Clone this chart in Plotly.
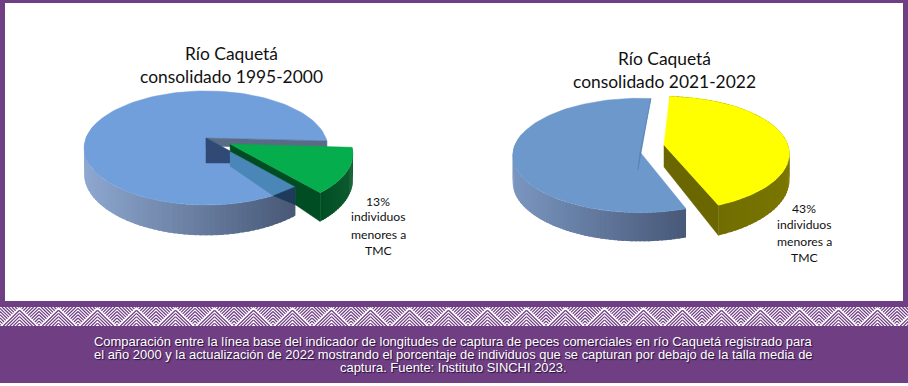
import math
import plotly.graph_objects as go

# ---- data ----
categories = ["Otros individuos", "Individuos menores a TMC"]
values_1995_2000 = [87, 13]
values_2021_2022 = [57, 43]
titles = [["Río Caquetá", "consolidado 1995-2000"], ["Río Caquetá", "consolidado 2021-2022"]]
label_lines_1 = ["13%", "individuos", "menores a", "TMC"]
label_lines_2 = ["43%", "individuos", "menores a", "TMC"]
caption_lines = [
    "Comparación entre la línea base del indicador de longitudes de captura de peces comerciales en río Caquetá registrado para",
    "el año 2000 y la actualización de 2022 mostrando el porcentaje de individuos que se capturan por debajo de la talla media de",
    "captura. Fuente: Instituto SINCHI 2023.",
]

W, H = 908, 386
PURPLE = "#6F3E83"
fig = go.Figure()


def sweep(pct):
    return pct * 3.6


def proj(p, r, th, dz=0.0):
    t = math.radians(th)
    den = 1 - p["k"] * r * math.sin(t)
    x = p["cx"] + p["a"] * r * math.cos(t) / den
    y = p["cy"] + p["b"] * r * math.sin(t) / den + dz * p["d"] / den
    return x, y


def poly(points, color, lw=0.5):
    xs = [q[0] for q in points] + [points[0][0]]
    ys = [q[1] for q in points] + [points[0][1]]
    fig.add_trace(go.Scatter(x=xs, y=ys, mode="lines", fill="toself", fillcolor=color,
                             line=dict(color=color, width=lw), hoverinfo="skip", showlegend=False))


def mix(c1, c2, f):
    return "rgb(%d,%d,%d)" % tuple(round(a + (b - a) * f) for a, b in zip(c1, c2))


def arc(p, t0, t1, dz=0.0, n=80):
    return [proj(p, 1, t0 + (t1 - t0) * i / n, dz) for i in range(n + 1)]


def wall(p, t0, t1, c_left, c_right, n=44):
    """outer wall in strips, shaded from left to right"""
    xs = [proj(p, 1, t0 + (t1 - t0) * i / n)[0] for i in range(n + 1)]
    lo, hi = min(xs), max(xs)
    for i in range(n):
        a0 = t0 + (t1 - t0) * i / n
        a1 = t0 + (t1 - t0) * (i + 1) / n
        f = (proj(p, 1, (a0 + a1) / 2)[0] - lo) / max(hi - lo, 1)
        a2 = a1 + (a1 - a0) * 0.6 if i < n - 1 else a1
        poly([proj(p, 1, a0), proj(p, 1, a2), proj(p, 1, a2, 1), proj(p, 1, a0, 1)], mix(c_left, c_right, f), lw=0)


def sector(p, t0, t1, color):
    poly([proj(p, 0, t0)] + arc(p, t0, t1, n=120), color)


# ---------- left pie ----------
L_blue = dict(cx=206, cy=138, a=120, b=55.3, k=0.175, d=25)
L_green = dict(L_blue, cx=230, cy=144, a=121)
th0 = 3.0
the = th0 + sweep(values_1995_2000[1])
wall(L_blue, 200, the, (142, 168, 208), (72, 88, 118), n=70)
sector(L_blue, the, th0 + 360, "#709FDC")

c = proj(L_blue, 0, th0)
rim0 = proj(L_blue, 1, th0)
poly([c, rim0, (rim0[0], rim0[1] + 8), (c[0], c[1] + 8)], "#5A6B87")
rf, rq = 0.30, 0.78
pf = proj(L_blue, rf, the)
pr = proj(L_blue, 1, the)
pq = proj(L_blue, rq, the)
poly([c, pf, (pf[0], c[1] + 25), (c[0], c[1] + 25)], "#2F4A75")
q1 = (pf[0], pf[1] + 15)
q2 = (pq[0], pq[1] + 21)
poly([pf, pr, q2, q1], "#4A86B8")
poly([pr, q2, (pr[0], pr[1] + 18)], "#1F3B5C")

gc = proj(L_green, 0, th0)
gtip = proj(L_green, 1, the)
gtipb = proj(L_green, 1, the, 1)
poly([gc, gtip, gtipb, (pr[0], pr[1] + 18), pr, pf], "#004D24")
wall(L_green, the, th0, (0, 77, 36), (14, 92, 46), n=30)
sector(L_green, th0, the, "#05AD4C")

# ---------- right pie ----------
R_blue = dict(cx=640, cy=152, a=127, b=57, k=0.06, d=27)
R_yel = dict(cx=664, cy=145, a=124, b=56, k=0.15, d=26)
bs = 70.0
be = bs + sweep(values_2021_2022[0])
wall(R_blue, 200, bs, (122, 150, 192), (72, 88, 120), n=70)
sector(R_blue, bs, be, "#6D98CB")
ctr = proj(R_blue, 0, bs)
poly([proj(R_blue, 1, be), ctr, (ctr[0] - 2, ctr[1] + 18)], "#5583AF")

ys = -87.0
ye = ys + sweep(values_2021_2022[1])
yc = proj(R_yel, 0, ys)
yr = proj(R_yel, 1, ye)
yrb = proj(R_yel, 1, ye, 1)
wall(R_yel, ye, ys, (107, 103, 0), (122, 118, 0), n=60)
poly([yc, yr, yrb, (yc[0], yc[1] + 22)], "#6B6700")
sector(R_yel, ys, ye, "#FFFF00")

# ---------- woven band ----------
BY0, BY1 = 307, 326
cell = 19.5
step = 3.3
hx, hy = [], []
ncell = int(W / cell) + 2
h = BY1 - BY0
for i in range(ncell):
    x0 = i * cell
    mirror = i % 2 == 1
    m = cell / h

    def emit(u0, v0, u1, v1):
        if mirror:
            u0, u1 = cell - u0, cell - u1
        hx.extend([x0 + u0, x0 + u1, None])
        hy.extend([BY0 + v0, BY0 + v1, None])

    o = step
    while o < cell:
        emit(o, h, cell, o / m)
        o += step
    o = step / 2
    while o < 2 * cell:
        cst = o - cell
        if cst >= 0:
            su, sv = cst, 0.0
        else:
            su, sv = 0.0, -cst / m
        eu = (cst + h * m) / 2
        ev = h - eu / m
        if 0 <= eu <= cell and sv <= ev:
            emit(su, sv, eu, ev)
        o += step
fig.add_trace(go.Scatter(x=hx, y=hy, mode="lines", line=dict(color=PURPLE, width=1.2),
                         hoverinfo="skip", showlegend=False, connectgaps=False))

# ---------- text ----------
ann = []


def txt(x, y, s, size, color, family, shadow=None):
    f = dict(size=size, color=color, family=family)
    if shadow:
        f["shadow"] = shadow
    ann.append(dict(x=x, y=y, xref="x", yref="y", text=s, showarrow=False, xanchor="center", yanchor="middle", font=f))


for cx_, ys_, lines in [(231, (53, 76), titles[0]), (664, (58, 81), titles[1])]:
    for y_, s in zip(ys_, lines):
        txt(cx_, y_, s, 17.4, "#111111", "Lato")
for cx_, ys_, lines in [(378, (201, 216, 234, 250), label_lines_1), (804, (208, 224, 241, 257), label_lines_2)]:
    for y_, s in zip(ys_, lines):
        txt(cx_, y_, s, 12.2, "#111111", "Lato")
for y_, s in zip((341, 354, 367), caption_lines):
    txt(453.5, y_, s, 12.95, "#FFFFFF", "Liberation Sans", shadow="1px 1px 1px #24103A")

shapes = [
    dict(type="rect", x0=0, x1=W, y0=0, y1=383, fillcolor=PURPLE, line_width=0, layer="below"),
    dict(type="rect", x0=5, x1=903, y0=3, y1=301, fillcolor="#FFFFFF", line_width=0, layer="below"),
    dict(type="rect", x0=0, x1=W, y0=BY0, y1=BY1, fillcolor="#FFFFFF", line_width=0, layer="below"),
]

fig.update_layout(
    width=W, height=H, margin=dict(l=0, r=0, t=0, b=0), showlegend=False,
    paper_bgcolor="#FFFFFF", plot_bgcolor="#FFFFFF",
    xaxis=dict(range=[0, W], visible=False, fixedrange=True),
    yaxis=dict(range=[H, 0], visible=False, fixedrange=True),
    shapes=shapes, annotations=ann,
)
fig.write_html("out.html", config={"displayModeBar": False},
               post_script="document.body.style.margin='0';document.body.style.overflow='hidden';")
